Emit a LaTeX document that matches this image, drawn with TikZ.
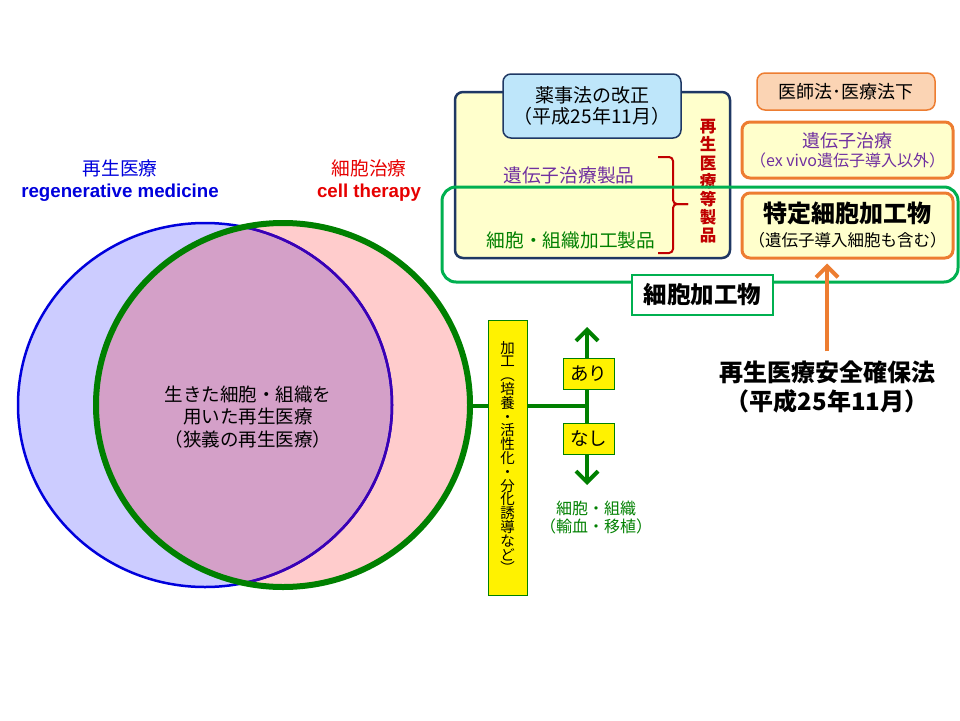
\documentclass[tikz,border=0pt]{standalone}
\usepackage{fontspec}
\setmainfont{Noto Sans CJK JP}
\newfontfamily\lat{Liberation Sans}
\usetikzlibrary{positioning,arrows.meta}
\definecolor{regblue}{RGB}{0,0,220}
\definecolor{innerblue}{RGB}{60,0,180}
\definecolor{celltxt}{RGB}{230,0,0}
\definecolor{bluefill}{RGB}{204,204,255}
\definecolor{pinkfill}{RGB}{255,204,204}
\definecolor{overlap}{RGB}{212,160,200}
\definecolor{cellgreen}{RGB}{0,128,0}
\definecolor{framegreen}{RGB}{0,176,80}
\definecolor{navy}{RGB}{31,56,100}
\definecolor{lightyel}{RGB}{255,255,204}
\definecolor{lightblue}{RGB}{190,230,250}
\definecolor{orange}{RGB}{237,125,49}
\definecolor{lightorange}{RGB}{251,212,180}
\definecolor{purpletxt}{RGB}{112,48,160}
\definecolor{darkred}{RGB}{192,0,0}
\begin{document}
\begin{tikzpicture}[x=1pt,y=-1pt,
	box/.style={draw,rounded corners=8pt,align=center,inner sep=0pt},
	tag/.style={draw=cellgreen,fill=yellow,line width=0.8pt,minimum width=51pt,minimum height=31pt,inner sep=0pt,font=\fontsize{18.5}{20}\selectfont},
	greenarrow/.style={cellgreen,line width=4pt,-{Straight Barb[length=11pt,width=22pt]}}]
	\useasboundingbox (0,0) rectangle (960,720);
	
	\fill[bluefill] (205,405) ellipse [x radius=187,y radius=182];
	\fill[pinkfill] (283,405) ellipse [x radius=187,y radius=182];
	\begin{scope}
		\clip (205,405) ellipse [x radius=187,y radius=182];
		\fill[overlap] (283,405) ellipse [x radius=187,y radius=182];
	\end{scope}
	\draw[regblue,line width=2.5pt] (205,405) ellipse [x radius=187,y radius=182];
	\begin{scope}
		\clip (283,405) ellipse [x radius=187,y radius=182];
		\draw[innerblue,line width=2.5pt] (205,405) ellipse [x radius=187,y radius=182];
	\end{scope}
	\draw[cellgreen,line width=6pt] (283,405) ellipse [x radius=187,y radius=182];
	\coordinate (cellright) at (470,406);
	
	\node[text=regblue,align=center,font=\fontsize{18.7}{22}\selectfont] (regen) at (120,181) {再生医療\\{\lat\bfseries regenerative medicine}};
	\node[text=celltxt,align=center,font=\fontsize{18.7}{22}\selectfont] (cellth) at (369,181) {細胞治療\\{\lat\bfseries cell therapy}};
	\node[align=center,font=\fontsize{18.5}{22.5}\selectfont] (narrow) at (248,417) {生きた細胞・組織を\\用いた再生医療\\（狭義の再生医療）};
	
	\node[draw=cellgreen,fill=yellow,line width=0.8pt,minimum width=39pt,minimum height=275pt,inner sep=0pt,align=center,font=\fontsize{14.5}{13.8}\selectfont] (kakou) at (507.5,457.5) {加\\工\\︵\\培\\養\\・\\活\\性\\化\\・\\分\\化\\誘\\導\\な\\ど\\︶};
	\coordinate (junc) at (587,406);
	\coordinate (uptip) at (587,327);
	\coordinate (downtip) at (587,485);
	\draw[cellgreen,line width=4pt] (cellright) -- (kakou.west |- cellright);
	\draw[cellgreen,line width=4pt] (kakou.east |- junc) -- (junc);
	\draw[greenarrow] (junc) -- (uptip);
	\draw[greenarrow] (junc) -- (downtip);
	\node[tag] (ari) at (588.5,373.5) {あり};
	\node[tag] (nashi) at (588.5,438.5) {なし};
	\node[text=cellgreen,align=center,font=\fontsize{16}{18}\selectfont] (transplant) at (596,518) {細胞・組織\\（輸血・移植）};
	
	\node[box,draw=navy,line width=2.5pt,fill=lightyel,minimum width=275pt,minimum height=166pt] (yakuji) at (592.5,175) {};
	\node[box,draw=navy,line width=1.5pt,fill=lightblue,minimum width=178pt,minimum height=64pt,font=\fontsize{19}{21}\selectfont] (kaisei) at (592,106) {薬事法の改正\\（平成25年11月）};
	\node[text=purpletxt,font=\fontsize{18.7}{20}\selectfont] (gene) at (569,175) {遺伝子治療製品};
	\node[text=cellgreen,font=\fontsize{18.7}{20}\selectfont] (tissue) at (571,240) {細胞・組織加工製品};
	\draw[darkred,line width=2pt,rounded corners=4pt] (658,157) -- (673,157) -- (673,204) -- (688,204);
	\draw[darkred,line width=2pt,rounded corners=4pt] (688,204) -- (673,204) -- (673,253) -- (658,253);
	\node[text=darkred,align=center,font=\fontsize{16.5}{18.2}\selectfont\bfseries] (products) at (708,181.5) {再\\生\\医\\療\\等\\製\\品};
	
	\node[box,draw=framegreen,line width=3pt,rounded corners=14pt,minimum width=516pt,minimum height=95pt] (frame) at (700,234.5) {};
	\node[draw=framegreen,line width=1.5pt,fill=white,minimum width=141pt,minimum height=40pt,inner sep=0pt,font=\fontsize{23.5}{26}\selectfont\bfseries] (processed) at (702.5,295) {細胞加工物};
	
	\node[box,draw=orange,line width=1.5pt,fill=lightorange,minimum width=178pt,minimum height=37pt,font=\fontsize{18}{20}\selectfont] (ishi) at (846,91.5) {医師法･医療法下};
	\node[box,draw=orange,line width=3pt,fill=lightyel,minimum width=211pt,minimum height=56pt,text=purpletxt,font=\fontsize{18}{18.5}\selectfont] (genether) at (847.5,150) {遺伝子治療\\{\fontsize{16}{18.5}\selectfont（ex vivo遺伝子導入以外）}};
	\node[box,draw=orange,line width=3pt,fill=lightyel,minimum width=211pt,minimum height=65pt,font=\fontsize{24}{24}\selectfont\bfseries] (tokutei) at (847.5,225.5) {特定細胞加工物\\{\fontsize{16.5}{19}\selectfont\mdseries（遺伝子導入細胞も含む）}};
	
	\node[align=center,font=\fontsize{24}{29}\selectfont\bfseries] (safety) at (827,387) {再生医療安全確保法\\（平成25年11月）};
	\draw[orange,line width=4pt,-{Straight Barb[length=11pt,width=22pt]},shorten <=6pt,shorten >=4pt] (safety.north) -- (safety.north |- tokutei.south);
\end{tikzpicture}
\end{document}
